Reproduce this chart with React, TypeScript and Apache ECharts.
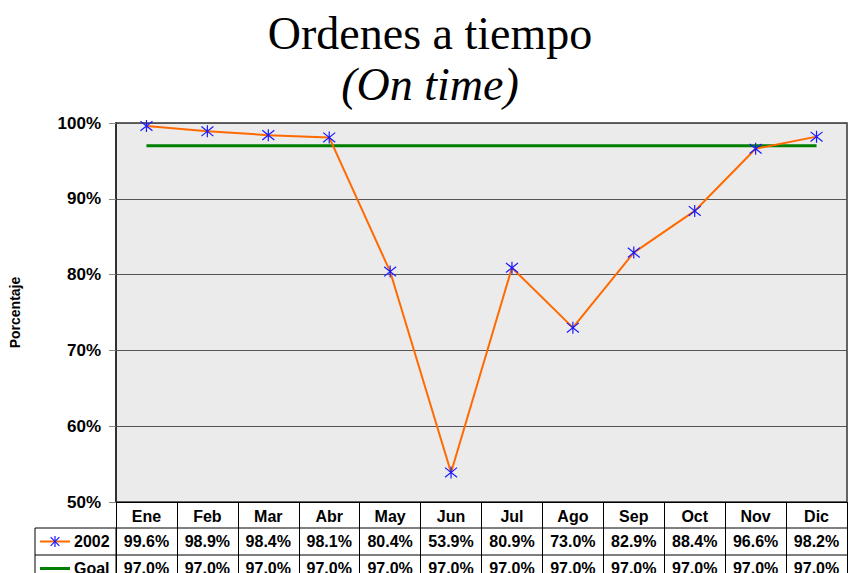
import React, { useEffect, useRef } from "react";
import * as echarts from "echarts";

const months = ["Ene", "Feb", "Mar", "Abr", "May", "Jun", "Jul", "Ago", "Sep", "Oct", "Nov", "Dic"];
const values2002 = [99.6, 98.9, 98.4, 98.1, 80.4, 53.9, 80.9, 73.0, 82.9, 88.4, 96.6, 98.2];
const goalValues = [97.0, 97.0, 97.0, 97.0, 97.0, 97.0, 97.0, 97.0, 97.0, 97.0, 97.0, 97.0];
const yTicks = [50, 60, 70, 80, 90, 100];

const STAR = "path://M5 0L5 10M1 1L9 9M1 9L9 1";
const SANS = "Liberation Sans";
const SERIF = "Liberation Serif";

export default function App() {
  const ref = useRef<HTMLDivElement>(null);
  useEffect(() => {
    if (!ref.current) return;
    const chart = echarts.init(ref.current, undefined, { renderer: "svg" });
    const gridLeft = 116, gridTop = 123, gridRight = 3, gridBottom = 71;
    const axisY = 573 - gridBottom;
    const rightX = 850 - gridRight;
    chart.setOption({
      animation: false,
      backgroundColor: "#ffffff",
      grid: {
        left: gridLeft, top: gridTop, right: gridRight, bottom: gridBottom,
        show: true, backgroundColor: "#ebebeb", borderColor: "#333", borderWidth: 1.5,
      },
      xAxis: {
        type: "category",
        data: months,
        boundaryGap: true,
        axisLine: { show: true, lineStyle: { color: "#000", width: 1 } },
        axisTick: { show: true, interval: 0, length: 71, lineStyle: { color: "#000", width: 1 } },
        axisLabel: { interval: 0, margin: 6, fontFamily: SANS, fontWeight: "bold", fontSize: 16, color: "#000" },
      },
      yAxis: {
        type: "value",
        min: yTicks[0],
        max: yTicks[yTicks.length - 1],
        interval: 10,
        name: "Porcentaje",
        nameLocation: "middle",
        nameGap: 94,
        nameRotate: 90,
        nameTextStyle: { fontFamily: SANS, fontWeight: "bold", fontSize: 14, color: "#000" },
        axisLine: { show: true, lineStyle: { color: "#222", width: 1.5 } },
        axisTick: { show: true, length: 7, lineStyle: { color: "#888" } },
        axisLabel: { margin: 15, formatter: "{value}%", fontFamily: SANS, fontWeight: "bold", fontSize: 17, color: "#000" },
        splitLine: { show: true, lineStyle: { color: "#555", width: 1 } },
      },
      series: [
        {
          name: "Goal", type: "line", data: goalValues, symbol: "none",
          lineStyle: { color: "#008000", width: 3 }, z: 2,
        },
        {
          name: "2002", type: "line", data: values2002, symbol: STAR, symbolSize: 12,
          itemStyle: { color: "rgba(0,0,0,0)", borderColor: "#1a1aff", borderWidth: 1.2 },
          lineStyle: { color: "#ff6a00", width: 2 }, z: 3,
        },
      ],
    });

    const row1 = axisY + 26, row2 = axisY + 53, row3 = axisY + 80;
    const graphics: any[] = [];
    graphics.push({ type: "line", shape: { x1: 35, y1: row1, x2: rightX, y2: row1 }, style: { stroke: "#000", lineWidth: 1 } });
    graphics.push({ type: "line", shape: { x1: 35, y1: row2, x2: rightX, y2: row2 }, style: { stroke: "#000", lineWidth: 1 } });
    graphics.push({ type: "line", shape: { x1: 35, y1: row1, x2: 35, y2: 573 }, style: { stroke: "#000", lineWidth: 1 } });
    graphics.push({ type: "line", shape: { x1: gridLeft, y1: row1, x2: gridLeft, y2: 573 }, style: { stroke: "#000", lineWidth: 1 } });
    const c1 = (row1 + row2) / 2, c2 = (row2 + row3) / 2;
    graphics.push({ type: "line", shape: { x1: 40, y1: c1, x2: 70, y2: c1 }, style: { stroke: "#ff6a00", lineWidth: 2 } });
    const sx = 55, s = 5.5;
    graphics.push({ type: "line", shape: { x1: sx, y1: c1 - s, x2: sx, y2: c1 + s }, style: { stroke: "#1a1aff", lineWidth: 1.2 } });
    graphics.push({ type: "line", shape: { x1: sx - s * 0.8, y1: c1 - s * 0.8, x2: sx + s * 0.8, y2: c1 + s * 0.8 }, style: { stroke: "#1a1aff", lineWidth: 1.2 } });
    graphics.push({ type: "line", shape: { x1: sx - s * 0.8, y1: c1 + s * 0.8, x2: sx + s * 0.8, y2: c1 - s * 0.8 }, style: { stroke: "#1a1aff", lineWidth: 1.2 } });
    graphics.push({ type: "text", x: 74, y: c1, style: { text: "2002", fontFamily: SANS, fontWeight: "bold", fontSize: 16, fill: "#000", verticalAlign: "middle", textAlign: "left" } });
    graphics.push({ type: "line", shape: { x1: 40, y1: c2, x2: 70, y2: c2 }, style: { stroke: "#008000", lineWidth: 3 } });
    graphics.push({ type: "text", x: 74, y: c2, style: { text: "Goal", fontFamily: SANS, fontWeight: "bold", fontSize: 16, fill: "#000", verticalAlign: "middle", textAlign: "left" } });

    months.forEach((_, i) => {
      const x = chart.convertToPixel({ xAxisIndex: 0 }, i) as number;
      graphics.push({ type: "text", x, y: c1, style: { text: values2002[i].toFixed(1) + "%", fontFamily: SANS, fontWeight: "bold", fontSize: 16, fill: "#000", verticalAlign: "middle", textAlign: "center" } });
      graphics.push({ type: "text", x, y: c2, style: { text: goalValues[i].toFixed(1) + "%", fontFamily: SANS, fontWeight: "bold", fontSize: 16, fill: "#000", verticalAlign: "middle", textAlign: "center" } });
    });

    graphics.push({ type: "text", x: 430, y: 33, style: { text: "Ordenes a tiempo", fontFamily: SERIF, fontSize: 46, fill: "#000", verticalAlign: "middle", textAlign: "center" } });
    graphics.push({ type: "text", x: 430, y: 84, style: { text: "(On time)", fontFamily: SERIF, fontStyle: "italic", fontSize: 46, fill: "#000", verticalAlign: "middle", textAlign: "center" } });

    chart.setOption({ graphic: graphics });
    return () => chart.dispose();
  }, []);
  return <div ref={ref} style={{ position: "fixed", left: 0, top: 0, width: 850, height: 573 }} />;
}
